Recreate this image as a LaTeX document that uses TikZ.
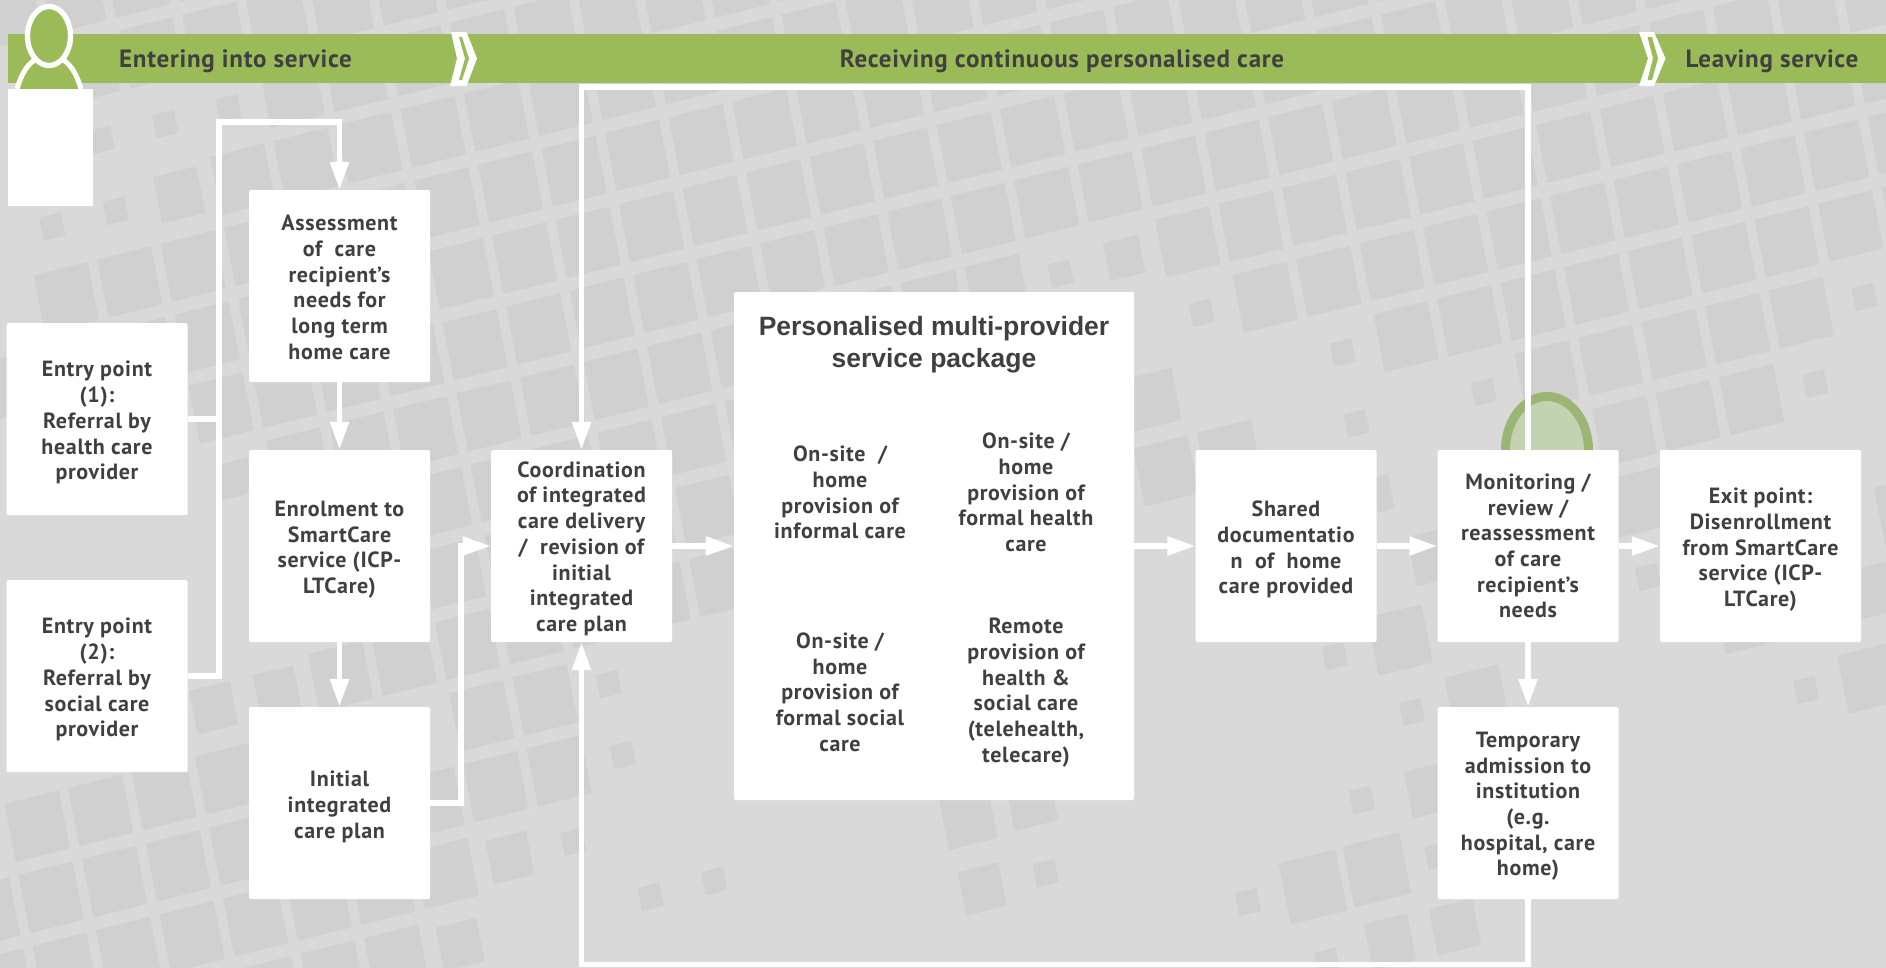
\documentclass[tikz,border=0pt]{standalone}
\usepackage{fontspec}
\setmainfont{PT Sans}[LetterSpace=3]
\newfontfamily\titlefont{Liberation Sans}
\usetikzlibrary{arrows.meta,calc}
\definecolor{bgcol}{HTML}{D9D9D9}
\definecolor{tilecol}{HTML}{D0D0D0}
\definecolor{bannercol}{HTML}{9BBB59}
\definecolor{textcol}{HTML}{404040}
\definecolor{ringcol}{HTML}{9BB574}
\definecolor{ringfill}{HTML}{C3D2B0}
\newcommand\tileat[3]{\fill[tilecol] ({#1-27*#3-5.7*#3},{#2+6.7*#3-29*#3}) -- ({#1+27*#3-5.7*#3},{#2-6.7*#3-29*#3}) -- ({#1+27*#3+5.7*#3},{#2-6.7*#3+29*#3}) -- ({#1-27*#3+5.7*#3},{#2+6.7*#3+29*#3}) -- cycle;}
\newcommand\gridtile[3]{\pgfmathsetmacro\gcx{1141+63.5*(#1)+14*(#2)+32.7}\pgfmathsetmacro\gcy{149-15.8*(#1)+71*(#2)+22}\tileat{\gcx}{\gcy}{#3}}
\newcommand\dnrule[1]{\rule{0pt}{#1}}
\tikzset{
  box/.style={fill=white,rounded corners=1.5pt,minimum width=181pt,minimum height=192pt,inner sep=0pt,align=center,text=textcol,font=\fontsize{22}{25.7}\selectfont\bfseries},
  inner/.style={inner sep=0pt,align=center,text=textcol,font=\fontsize{22}{25.7}\selectfont\bfseries},
  phase/.style={inner sep=0pt,text=textcol,font=\fontsize{25}{28}\selectfont\bfseries},
  conn/.style={draw=white,line width=5.5pt},
  tip/.style={-{Triangle[length=28pt,width=18pt]}},
  whiteshape/.style={fill=white},
  greenshape/.style={fill=bannercol}
}
\begin{document}
\begin{tikzpicture}[x=1pt,y=-1pt]
\useasboundingbox (0,0) rectangle (1886,967);
\begin{scope}
\clip (-3,-3) rectangle (1889,970);
\fill[bgcol] (-3,-3) rectangle (1889,970);
% dense rows of the tile grid: row / first column / last column
\foreach \j/\a/\b in {-8/-22/14,-7/-22/14,-6/-22/14,-5/-16/14,-4/-13/14,-3/-14/14,-2/-17/14,-1/-18/14,0/-15/14,
  1/-14/-3,1/0/14,2/-14/-7,2/1/14,3/-14/-7,3/3/14,4/-14/-8,4/5/9,4/-1/0,5/-12/-11,5/6/8,5/-19/-16,6/-20/-11,6/6/7,7/-20/-13,7/10/10,8/-16/-14}{
  \foreach \i in {\a,...,\b}{\gridtile{\i}{\j}{1}}
}
% smaller tiles of the grid
\foreach \i/\j/\s in {-14/-4/0.4,-15/-4/0.4,-16/-4/0.4,-16/-3/0.4,-17/-3/0.4,-15/-3/0.8,-2/1/0.4,-1/1/0.65,0/2/0.4,-1/3/0.9,2/3/0.4,2/4/0.4,4/4/0.4,10/4/0.4,9/5/0.4,
  -16/4/0.75,-15/4/0.75,-10/5/0.4,-10/6/0.4,-11/7/0.4,-12/7/0.75,-13/8/0.75,-10/8/0.4,-9/8/0.4,-5/8/0.9,-4/8/0.8,-5/9/0.75,-4/9/0.4}{
  \gridtile{\i}{\j}{\s}
}
% scattered tiles
\foreach \x/\y/\s in {235/479/0.6,1335/656/0.4,1400/640/1,1412/712/0.4,1477/700/1,1362/800/0.4,1430/790/0.8,1313/887/1.05,1377/870/1.05,1248/902/0.4,1390/942/0.8,1327/962/0.4,1455/927/0.8,1437/856/0.4,1435/556/0.85,1375/495/0.6,1648/577/0.4,1875/590/0.85,1745/622/0.9,1870/678/1,1806/690/0.4}{
  \tileat{\x}{\y}{\s}
}
\end{scope}
% green ring behind the monitoring box
\draw[ringcol,fill=ringfill,line width=9pt] (1547,450) ellipse [x radius=41.5,y radius=53.5];
% banner
\fill[bannercol] (8,34) rectangle (1889,83);
\fill[whiteshape] (451,32) -- (466.5,32) -- (477,58.5) -- (466.5,86) -- (450,86) -- (457,58.5) -- cycle;
\fill[greenshape] (459,37) -- (462,37) -- (469,58.5) -- (462,80) -- (459,80) -- (465,58.5) -- cycle;
\fill[whiteshape] (1639,32) -- (1654,32) -- (1665.5,58.5) -- (1654,86) -- (1639,86) -- (1648,58.5) -- cycle;
\fill[greenshape] (1647.5,37) -- (1652,37) -- (1658,58.5) -- (1652,80) -- (1647.5,80) -- (1653,58.5) -- cycle;
\node[phase] (ph1) at (235.5,61) {Entering into service};
\node[phase] (ph2) at (1062,61) {Receiving continuous personalised care};
\node[phase] (ph3) at (1772,61) {Leaving service};
% person
\draw[white,fill=bannercol,line width=5pt] (17,89) .. controls (22,72) and (28,64) .. (36,59) -- (62,59) .. controls (70,64) and (76,72) .. (81,89);
\draw[white,fill=bannercol,line width=5.3pt] (49,36) ellipse [x radius=21.5,y radius=29.5];
\node[fill=white,minimum width=85pt,minimum height=117pt,inner sep=0pt] (blank) at (50.5,147.5) {};
% boxes
\node[box] (e1) at (97,419) {\dnrule{23pt}Entry point\\(1):\\Referral by\\health care\\provider};
\node[box] (e2) at (97,676) {\dnrule{23pt}Entry point\\(2):\\Referral by\\social care\\provider};
\node[box] (as) at (339.5,286) {\dnrule{18pt}Assessment\\of\ \ care\\recipient’s\\needs for\\long term\\home care};
\node[box] (en) at (339.5,546) {\dnrule{23pt}Enrolment to\\SmartCare\\service (ICP-\\LTCare)};
\node[box] (ip) at (339.5,803) {\dnrule{23pt}Initial\\integrated\\care plan};
\node[box] (co) at (581.5,546) {\dnrule{21pt}Coordination\\of integrated\\care delivery\\/\ \ revision of\\initial\\integrated\\care plan};
\node[box,minimum width=400pt,minimum height=508pt] (pk) at (934,546) {};
\node[box] (sh) at (1286,546) {\dnrule{23pt}Shared\\documentatio\\n\ \ of\ \ home\\care provided};
\node[box] (mo) at (1528,546) {Monitoring /\\review /\\reassessment\\of care\\recipient’s\\needs};
\node[box,minimum width=201pt] (ex) at (1760.5,546) {\dnrule{23pt}Exit point:\\Disenrollment\\from SmartCare\\service (ICP-\\LTCare)};
\node[box] (te) at (1528,803) {\dnrule{22pt}Temporary\\admission to\\institution\\(e.g.\\hospital, care\\home)};
% package contents
\node[inner sep=0pt,align=center,text=textcol,font=\titlefont\fontsize{26.5}{32.3}\selectfont\bfseries] (pt) at (934,344.5) {Personalised multi-provider\\service package};
\node[inner] (p1) at (840,492.5) {On-site\ \ /\\home\\provision of\\informal care};
\node[inner] (p2) at (1026,492.5) {On-site /\\home\\provision of\\formal health\\care};
\node[inner] (p3) at (840,692) {On-site /\\home\\provision of\\formal social\\care};
\node[inner] (p4) at (1026,692.5) {Remote\\provision of\\health \&\\social care\\(telehealth,\\telecare)};
% connector corners
\coordinate (bus) at (219,122);
\coordinate (elbow) at (461,546);
\coordinate (topR) at (1528,87);
\coordinate (topL) at (581.5,87);
\coordinate (botR) at (1528,964.5);
\coordinate (botL) at (581.5,964.5);
% connectors
\draw[conn] (e1.east) -- (e1.east -| bus);
\draw[conn,tip] (e2.east) -| (bus) -| (as.north);
\draw[conn,tip] (as.south) -- (en.north);
\draw[conn,tip] (en.south) -- (ip.north);
\draw[conn,tip] (ip.east) -| (elbow) -- (co.west);
\draw[conn,tip] (co.east) -- (co.east -| pk.west);
\draw[conn,tip] (co.east -| pk.east) -- (sh.west);
\draw[conn,tip] (sh.east) -- (mo.west);
\draw[conn,tip] (mo.east) -- (ex.west);
\draw[conn,tip] (mo.south) -- (te.north);
\draw[conn,tip] (mo.north) -- (topR) -- (topL) -- (co.north);
\draw[conn,tip] (te.south) -- (botR) -- (botL) -- (co.south);
\end{tikzpicture}
\end{document}
